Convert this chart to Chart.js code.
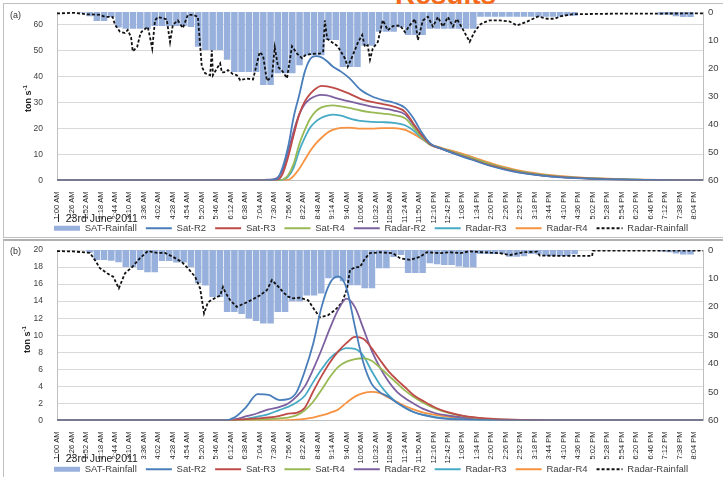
<!DOCTYPE html>
<html><head><meta charset="utf-8">
<script src="https://cdn.jsdelivr.net/npm/chart.js@4.4.1/dist/chart.umd.min.js"></script>
<style>
html,body{margin:0;padding:0;background:#fff;}
body{width:723px;height:477px;overflow:hidden;position:relative;font-family:'Liberation Sans',Arial,sans-serif;}
.panel{position:absolute;left:3px;width:780px;border:1px solid #bfbfbf;box-sizing:border-box;}
#pa{top:3px;height:235px;}
#pb{top:239px;height:245px;border-top:2px solid #b0b0b0;}
canvas{position:absolute;left:0;}
#ca{top:3px;}
#cb{top:239px;}
.txt{position:absolute;color:#333;white-space:nowrap;}
.tag{font-size:9px;line-height:10px;}
.ytitle{font-size:9px;font-weight:bold;line-height:12px;width:40px;text-align:center;transform:rotate(-90deg);color:#222;}
.date{font-size:10.5px;line-height:12px;color:#222;}
#results{position:absolute;left:395px;top:-19px;font:bold 28px/28px 'Liberation Sans',Arial,sans-serif;color:#f46b1e;}
</style></head>
<body>
<div class="panel" id="pa"></div>
<div class="panel" id="pb"></div>
<div id="results">Results</div>
<canvas id="ca" width="742" height="240"></canvas>
<canvas id="cb" width="742" height="245"></canvas>
<div class="txt tag" style="left:10px;top:10px;">(a)</div>
<div class="txt tag" style="left:10px;top:246px;">(b)</div>
<div class="txt ytitle" style="left:6px;top:91px;">ton s<sup style="font-size:6px;">-1</sup></div>
<div class="txt ytitle" style="left:5px;top:332px;">ton s<sup style="font-size:6px;">-1</sup></div>
<div class="txt date" style="left:57px;top:212px;">I&nbsp;&nbsp;23rd June 2011</div>
<div class="txt date" style="left:57px;top:452px;">I&nbsp;&nbsp;23rd June 2011</div>
<script>
// ---------- tick labels (every 26 minutes from 1:00 AM) ----------
const tickLabels = ['1:00 AM','1:26 AM','1:52 AM','2:18 AM','2:44 AM','3:10 AM','3:36 AM','4:02 AM','4:28 AM','4:54 AM','5:20 AM','5:46 AM','6:12 AM','6:38 AM','7:04 AM','7:30 AM','7:56 AM','8:22 AM','8:48 AM','9:14 AM','9:40 AM','10:06 AM','10:32 AM','10:58 AM','11:24 AM','11:50 AM','12:16 PM','12:42 PM','1:08 PM','1:34 PM','2:00 PM','2:26 PM','2:52 PM','3:18 PM','3:44 PM','4:10 PM','4:36 PM','5:02 PM','5:28 PM','5:54 PM','6:20 PM','6:46 PM','7:12 PM','7:38 PM','8:04 PM'];
const legendOrder = ['SAT-Rainfall','Sat-R2','Sat-R3','Sat-R4','Radar-R2','Radar-R3','Radar-R4','Radar-Rainfall'];

// ---------- panel (a): discharge lines (minutes after 1:00 AM) ----------
const aLineTimes = [0,340,380,395,405,415,425,435,445,455,465,475,485,495,510,525,545,565,585,605,625,640,655,670,690,715,745,780,820,870,930,1000,1080,1160];
const aSatR2 = [0,0,0.1,0.6,5,13,24.5,33,42,47,48,47.5,46,44,42,39.5,35,32.5,31,30,28,24,18.5,14.3,12.3,10.2,8,5.5,3.4,1.9,0.9,0.4,0.1,0];
const aSatR3 = [0,0,0,0.2,2.5,9,17.5,25.5,30.5,33.5,35.5,36.5,36.3,35.8,34.8,33.5,31.5,30.3,29.5,28.5,26.5,22,17.5,14,12.3,10.4,8.2,5.7,3.6,2.0,1.0,0.45,0.15,0];
const aSatR4 = [0,0,0,0,0.3,2,6.5,14,19.5,24,26.8,28.2,28.8,29,28.6,28,27,26.3,25.8,25.2,24,20.5,16.8,13.8,12.4,10.7,8.6,6.1,3.9,2.2,1.1,0.5,0.15,0];
const aRadR2 = [0,0,0.3,1.0,4,11,19,25.5,29.5,31.5,32.6,33,32.8,32.2,31.3,30.5,29.5,28.5,27.8,27,25.5,21.5,17.3,14,12.3,10.4,8.2,5.8,3.7,2.0,1.0,0.45,0.15,0];
const aRadR3 = [0,0,0,0,0.2,1.5,5,11.5,16.5,20.5,22.8,24.2,25,25.4,25,24,23,22.6,22.5,22.2,21.3,19.3,16.4,13.8,12.4,10.7,8.6,6.1,3.9,2.2,1.1,0.5,0.15,0];
const aRadR4 = [0,0,0,0,0,0.2,1.8,4.5,8,11.5,14.3,16.5,18.3,19.5,20.3,20.4,20,20,20.2,20.2,19.5,18,16,14,12.6,11.1,9.1,6.6,4.3,2.5,1.3,0.6,0.2,0];
// panel (a): radar rainfall (right axis)
const aRadarRainT = [0,30,54,77,86,100,104,113,122,127,133,136,144,150,153,163,167,171,176,181,190,197,203,208,217,226,235,244,253,260,266,275,278,280,289,293,296,302,307,315,323,329,341,352,359,364,370,377,386,391,397,406,413,422,431,440,445,454,465,472,478,481,485,504,517,522,531,540,548,553,558,562,567,576,585,594,603,616,625,634,643,648,657,666,675,684,693,702,711,718,727,741,750,759,765,777,795,813,826,844,864,880,894,903,916,926,1000,1160];
const aRadarRainV = [0.5,0.3,0.8,1.0,1.7,1.8,4.5,7,7.5,6.4,9,14,12.4,7.5,6.8,5.3,9,13,3,1.8,2.2,2.6,10.7,4.6,3,5.7,1,1,1.7,19.5,21.8,22.5,13.6,22.5,19.5,18.3,21.5,21.4,20.7,22,22.5,24.3,23.7,24,18.3,14.3,15.5,24.5,23,12.6,19.5,21.4,23.6,12.2,14.8,16.5,15.5,15,14.8,14.8,14,3,9.5,12.2,16.5,19.5,15.5,11,8.2,12.4,11.8,17,13,10.7,2.9,6.5,5,4.8,7.2,4.6,2.5,10,3,1.7,5.2,1.8,5.2,1.8,5.2,2.5,5.5,10.6,7,4.6,3.8,3,3,3.4,4.8,3.4,1.6,2.4,2.4,1.6,1.1,0.8,0.6,0.5];
// panel (a): satellite rainfall, one bar per 13-minute slot
const aSatRain = [0,0,0,0.3,1.5,3.2,3.2,1.8,5.5,6,6,6,6,5,5,5,5,5,5.3,12.4,13.5,13.5,13.5,17,21.4,21.4,21.4,21.4,26,26,21.8,21.8,21.8,19,15.4,15.4,15.4,10,10,19.6,19.6,19.6,12,12,7,7,7,5.5,8.2,8.2,8.2,6,6,6,6,6,6,6,1.7,1.7,1.7,1.7,1.7,1.7,1.7,1.7,1.7,1.7,1.7,1.7,1.3,1.3,0,0,0,0,0,0,0,0,0,0,0,1,1,1.5,1.8,1.8,0];

// ---------- panel (b) ----------
const bLineTimes = [0,300,320,340,360,380,400,415,430,445,460,475,490,505,520,535,550,565,580,595,610,625,640,660,680,700,730,770,820,900,1000,1160];
const bSatR2 = [0,0,0.4,1.6,3.1,3.0,2.4,2.5,3.3,5.8,9,13.3,16.1,16.9,15.5,11,6.8,4.3,3.3,2.8,2.1,1.5,1.0,0.6,0.35,0.2,0.1,0.04,0,0,0,0];
const bSatR3 = [0,0,0.05,0.15,0.25,0.35,0.55,0.8,0.9,1.5,3.4,5.2,6.8,8.1,9.1,9.8,9.6,8.5,7.1,5.8,4.8,3.9,3.0,2.2,1.5,1.0,0.55,0.25,0.1,0.02,0,0];
const bSatR4 = [0,0,0.02,0.05,0.1,0.15,0.25,0.35,0.6,1.2,2.2,3.6,5.1,6.3,6.9,7.2,7.3,7.0,6.2,5.3,4.4,3.5,2.8,2.0,1.4,0.95,0.5,0.2,0.08,0.01,0,0];
const bRadR2 = [0,0,0.15,0.5,0.85,1.3,1.6,2.0,2.8,4.0,6.0,8.3,10.8,13.0,14.3,13.3,10.8,8.2,6.2,4.6,3.4,2.6,2.0,1.3,0.85,0.6,0.35,0.15,0.05,0,0,0];
const bRadR3 = [0,0,0.05,0.2,0.45,0.75,1.25,1.6,2.1,2.9,4.5,6.0,7.3,8.1,8.5,8.4,7.6,5.8,4.2,3.0,2.1,1.5,1.0,0.65,0.4,0.25,0.15,0.05,0,0,0,0];
const bRadR4 = [0,0,0,0,0,0,0.02,0.05,0.1,0.2,0.35,0.6,0.9,1.3,2.1,2.8,3.2,3.35,3.2,2.7,2.2,1.7,1.3,0.9,0.65,0.45,0.25,0.12,0.05,0.01,0,0];
const bRadarRainT = [0,29,59,68,77,90,101,111,122,135,149,163,180,194,208,224,235,248,257,264,271,280,293,298,302,311,323,341,352,364,377,386,395,406,415,424,436,451,463,472,487,499,512,521,526,531,539,544,553,562,580,603,616,634,652,664,688,706,724,741,765,795,813,837,862,867,961,962,1160];
const bRadarRainV = [0.4,0.5,1.0,3.5,6.4,8.2,9.4,13.5,8.2,6,2.9,0.4,1,1,2.4,4.2,6.4,9.4,13.5,22.3,18.4,17.3,16,13,14.8,17.7,20,18.4,17.3,16,14.1,10.6,12.4,14.8,16.4,17,16.8,17.7,21.2,23.7,22.9,21.2,18.4,13.5,7,6.5,6,6,3,1.1,0.8,1.1,2.9,3.5,2.4,0.8,1.1,0.8,1.1,0.5,0.8,1.1,1.8,0.8,0.6,2.0,2.1,0.2,0.2];
const bSatRain = [0,0,0,0,1,3.5,3.5,3.8,4.3,6,6,7,7.8,7.8,3.9,3.9,4.4,4.4,6,11.7,12.5,16.5,16.5,21.8,21.8,22.5,24.1,25,25.9,25.9,21.8,21.8,18,18,16,16,15.3,9.9,9.9,11,12.4,12.4,13.5,13.5,6.4,6.4,2.5,1.8,8.1,8.1,8.1,4.7,5,5.3,5.3,5.8,6.1,6.1,1.4,1.4,1.4,1.4,2.4,2.4,2.2,1.4,1.6,2.1,2.1,2.1,2.1,1.5,0,0,0,0,0,0,0,0,0,0,0,0.5,0.8,1.2,1.6,1.6,0];

const COLORS = {satR2:'#4a7ebb', satR3:'#be4b48', satR4:'#98b954', radR2:'#7d60a0', radR3:'#46aac5', radR4:'#f69240', bar:'#98b0dc'};
Chart.defaults.font.family = "'Liberation Sans', Arial, sans-serif";

function pts(times, vals){ return vals.map((v,i)=>({x:times[i], y:v})); }
function lineDs(label, times, vals, color){
  return {type:'line', label, data:pts(times, vals), borderColor:color, backgroundColor:color,
    borderWidth:1.8, pointRadius:0, cubicInterpolationMode:'monotone', fill:false, yAxisID:'y'};
}
function barSlots(vals){ return vals.map((_,i)=>6.5+13*i); }

function makeChart(id, p){
  const datasets = [
    lineDs('Sat-R2', p.t, p.s2, COLORS.satR2),
    lineDs('Sat-R3', p.t, p.s3, COLORS.satR3),
    lineDs('Sat-R4', p.t, p.s4, COLORS.satR4),
    lineDs('Radar-R2', p.t, p.r2, COLORS.radR2),
    lineDs('Radar-R3', p.t, p.r3, COLORS.radR3),
    lineDs('Radar-R4', p.t, p.r4, COLORS.radR4),
    {type:'line', label:'Radar-Rainfall', data:pts(p.rt, p.rv), borderColor:'#111', backgroundColor:'#111',
      borderWidth:1.8, borderDash:[3,2], pointRadius:0, tension:0, fill:false, yAxisID:'y2'},
    {type:'bar', label:'SAT-Rainfall', data:pts(barSlots(p.bar), p.bar), backgroundColor:COLORS.bar,
      borderWidth:0, barPercentage:0.9, categoryPercentage:1, yAxisID:'y2'}
  ];
  return new Chart(document.getElementById(id), {
    type:'line',
    data:{datasets},
    options:{
      responsive:false, animation:false, events:[],
      layout:{padding:{top:p.padTop, left:0, right:0, bottom:0}},
      plugins:{
        tooltip:{enabled:false},
        legend:{position:'bottom',
          labels:{usePointStyle:true, pointStyleWidth:26, padding:9, color:'#404040', font:{size:9.5},
            sort:(a,b)=>legendOrder.indexOf(a.text)-legendOrder.indexOf(b.text),
            generateLabels:(chart)=>{
              const items = Chart.defaults.plugins.legend.labels.generateLabels(chart);
              items.forEach(it=>{
                const ds = chart.data.datasets[it.datasetIndex];
                it.pointStyle = 'line';
                if (ds.type==='bar'){ it.strokeStyle = ds.backgroundColor; it.lineWidth = 5; it.lineDash = []; }
                else { it.strokeStyle = ds.borderColor; it.lineWidth = 2; it.lineDash = ds.borderDash || []; }
              });
              return items;
            }}
        }
      },
      scales:{
        x:{type:'linear', min:0, max:1160, offset:false,
          afterBuildTicks:(s)=>{ s.ticks = tickLabels.map((_,i)=>({value:i*26})); },
          afterFit:(s)=>{ s.height = p.xh; s._computeLabelArea = ()=>null; },
          grid:{display:false}, border:{display:true, color:'#bfbfbf'},
          ticks:{autoSkip:false, minRotation:90, maxRotation:90, padding:3, color:'#222', font:{size:7.5},
            callback:(v)=>tickLabels[Math.round(v/26)]}
        },
        y:{position:'left', min:0, max:p.ymax,
          afterBuildTicks:(s)=>{ s.ticks = p.yticks.map(v=>({value:v})); },
          afterFit:(s)=>{ s.width = 57; s.paddingTop = 6; s.paddingBottom = 6; },
          grid:{color:'#d9d9d9', drawTicks:false}, border:{display:true, color:'#bfbfbf'},
          ticks:{padding:14, color:'#404040', font:{size:8.5}}
        },
        y2:{position:'right', min:0, max:60, reverse:true,
          afterBuildTicks:(s)=>{ s.ticks = [0,10,20,30,40,50,60].map(v=>({value:v})); },
          afterFit:(s)=>{ s.width = 39; s.paddingTop = 6; s.paddingBottom = 6; },
          grid:{display:false, drawTicks:false}, border:{display:true, color:'#bfbfbf'},
          ticks:{padding:5, color:'#404040', font:{size:9.5}}
        }
      }
    }
  });
}

makeChart('ca', {t:aLineTimes, s2:aSatR2, s3:aSatR3, s4:aSatR4, r2:aRadR2, r3:aRadR3, r4:aRadR4,
  rt:aRadarRainT, rv:aRadarRainV, bar:aSatRain, ymax:65, yticks:[0,10,20,30,40,50,60], padTop:9, xh:34});
makeChart('cb', {t:bLineTimes, s2:bSatR2, s3:bSatR3, s4:bSatR4, r2:bRadR2, r3:bRadR3, r4:bRadR4,
  rt:bRadarRainT, rv:bRadarRainV, bar:bSatRain, ymax:20, yticks:[0,2,4,6,8,10,12,14,16,18,20], padTop:11, xh:35});
</script>
</body></html>
